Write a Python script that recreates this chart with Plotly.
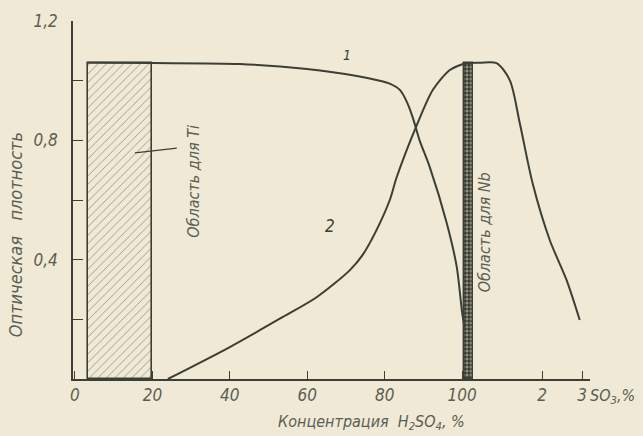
import plotly.graph_objects as go

# ---- data ----
# x axis: H2SO4 concentration, %, continued beyond 100 % by SO3 content (oleum), %
SO3_SCALE = 10.32  # axis units per 1 % SO3 beyond 100 % H2SO4

curve1_h2so4 = [3.4, 20, 42.6, 59.9, 72.8, 78.7, 81.3, 83.9, 85.7, 87.2, 89.0, 91.6, 96.0, 98.6, 100]
curve1_od = [1.06, 1.059, 1.056, 1.039, 1.016, 1.0, 0.99, 0.969, 0.929, 0.878, 0.80, 0.711, 0.523, 0.375, 0.221]
curve1_so3 = [0.06]
curve1_od_so3 = [0.174]

curve2_h2so4 = [24.0, 40.0, 53.7, 62.5, 71.0, 74.3, 77.9, 81.3, 83.1, 88.3, 92.4, 96.8, 100]
curve2_od = [0.0, 0.107, 0.208, 0.275, 0.365, 0.416, 0.50, 0.60, 0.677, 0.852, 0.969, 1.036, 1.055]
curve2_so3 = [0.11, 0.44, 0.86, 1.19, 1.44, 1.76, 2.19, 2.61, 2.94]
curve2_od_so3 = [1.059, 1.06, 1.059, 1.002, 0.858, 0.657, 0.466, 0.332, 0.198]

ti_region_h2so4 = [3.4, 20.0]
nb_region_so3 = [0.04, 0.26]
region_od = 1.06

h2so4_ticks = [0, 20, 40, 60, 80, 100]
so3_ticks = [2, 3]
y_ticks = [0.2, 0.4, 0.6, 0.8, 1.0, 1.2]
y_ticklabels = ["", "0,4", "", "0,8", "", "1,2"]


def so3_to_axis(v):
    return 100 + v * SO3_SCALE


INK = "#3b3f35"
TXT = "#5b5e52"
PAPER = "#efe9d6"
FONT = "DejaVu Sans Condensed, DejaVu Sans, sans-serif"

fig = go.Figure()

# hatched region for Ti
fig.add_trace(go.Bar(
    x=[(ti_region_h2so4[0] + ti_region_h2so4[1]) / 2], y=[region_od],
    width=[ti_region_h2so4[1] - ti_region_h2so4[0]], base=0,
    marker=dict(color=PAPER, line=dict(color=INK, width=1.6),
                pattern=dict(shape="/", fgcolor=INK, bgcolor=PAPER, size=6, solidity=0.14)),
    showlegend=False, hoverinfo="skip"))

# cross-hatched region for Nb
nb0, nb1 = so3_to_axis(nb_region_so3[0]), so3_to_axis(nb_region_so3[1])
fig.add_trace(go.Bar(
    x=[(nb0 + nb1) / 2], y=[region_od], width=[nb1 - nb0], base=0,
    marker=dict(color=INK, line=dict(color=INK, width=1.4),
                pattern=dict(shape=".", fgcolor="#e6e0cc", bgcolor=INK, size=4, solidity=0.45)),
    showlegend=False, hoverinfo="skip"))

# curve 1
fig.add_trace(go.Scatter(
    x=curve1_h2so4 + [so3_to_axis(v) for v in curve1_so3],
    y=curve1_od + curve1_od_so3,
    mode="lines", line=dict(color=INK, width=2, shape="spline", smoothing=0.8),
    showlegend=False, hoverinfo="skip"))

# curve 2
fig.add_trace(go.Scatter(
    x=curve2_h2so4 + [so3_to_axis(v) for v in curve2_so3],
    y=curve2_od + curve2_od_so3,
    mode="lines", line=dict(color=INK, width=2, shape="spline", smoothing=0.8),
    showlegend=False, hoverinfo="skip"))

tickvals = h2so4_ticks + [so3_to_axis(v) for v in so3_ticks]
ticktext = [str(v) for v in h2so4_ticks] + [str(v) for v in so3_ticks]

fig.update_layout(
    width=643, height=436,
    margin=dict(l=73, r=53, t=21, b=57),
    paper_bgcolor=PAPER, plot_bgcolor=PAPER,
    barmode="overlay", bargap=0,
    font=dict(family=FONT, color=TXT, size=16, style="italic"),
    xaxis=dict(range=[-0.5, 133], tickvals=tickvals, ticktext=ticktext, automargin=False,
               ticks="inside", ticklen=8, tickcolor=INK, tickwidth=1.3,
               showline=True, linecolor=INK, linewidth=1.6, showgrid=False, zeroline=False,
               tickfont=dict(family=FONT, size=17, color=TXT, style="italic")),
    yaxis=dict(range=[0, 1.2], tickvals=y_ticks, ticktext=y_ticklabels, automargin=False,
               ticks="inside", ticklen=10, tickcolor=INK, tickwidth=1.3,
               showline=True, linecolor=INK, linewidth=1.6, showgrid=False, zeroline=False,
               ticklabelstandoff=10,
               tickfont=dict(family=FONT, size=17, color=TXT, style="italic")),
)

# axis titles
fig.add_annotation(x=0.578, y=0, xref="paper", yref="paper", yshift=-43, yanchor="middle",
                   showarrow=False, text="Концентрация  H<sub>2</sub>SO<sub>4</sub>, %",
                   font=dict(family=FONT, size=16, color=TXT, style="italic"))
fig.add_annotation(x=-0.112, y=0.402, xref="paper", yref="paper", textangle=-90,
                   xanchor="center", yanchor="middle",
                   showarrow=False, text="Оптическая   плотность",
                   font=dict(family=FONT, size=18, color=TXT, style="italic"))

# SO3 unit label after the last tick
fig.add_annotation(x=133, y=0, xref="x", yref="paper", xanchor="left", yanchor="top",
                   xshift=-2, yshift=-5, showarrow=False, text="SO<sub>3</sub>,%",
                   font=dict(family=FONT, size=16, color=TXT, style="italic"))

# curve numbers
fig.add_annotation(x=70.2, y=1.085, text="1", showarrow=False,
                   font=dict(family=FONT, size=14, color=INK, style="italic"))
fig.add_annotation(x=65.8, y=0.513, text="2", showarrow=False,
                   font=dict(family=FONT, size=17, color=INK, style="italic"))

# region labels
fig.add_annotation(x=30.7, y=0.664, text="Область для Ti", textangle=-90, showarrow=False,
                   font=dict(family=FONT, size=16, color=TXT, style="italic"))
fig.add_annotation(x=so3_to_axis(0.58), y=0.493, text="Область для Nb", textangle=-90,
                   showarrow=False, font=dict(family=FONT, size=16, color=TXT, style="italic"))
fig.add_shape(type="line", x0=15.5, y0=0.758, x1=26.3, y1=0.774, xref="x", yref="y",
              line=dict(color=INK, width=1.2))

fig.write_html(
    "out.html",
    config={"displayModeBar": False},
    post_script="document.body.style.margin='0';document.body.style.background='#efe9d6';",
)
